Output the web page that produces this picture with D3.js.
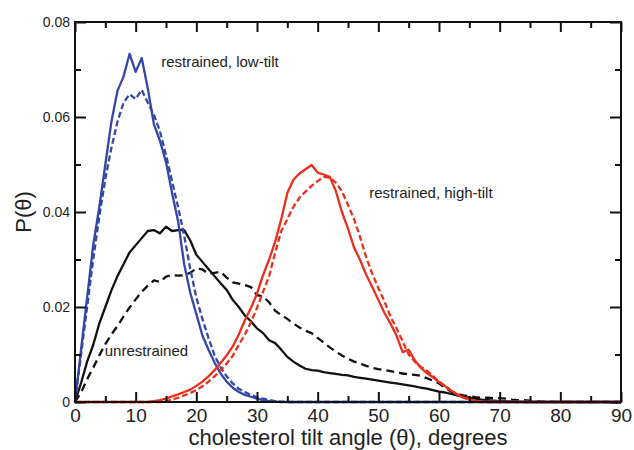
<!DOCTYPE html>
<html>
<head>
<meta charset="utf-8">
<script src="https://cdn.jsdelivr.net/npm/d3@7"></script>
<style>
  body { margin: 0; background: #fff; }
  svg { display: block; }
  text { font-family: "Liberation Sans", Arial, Helvetica, sans-serif; fill: #222; }
</style>
</head>
<body>
<svg id="chart" width="634" height="450"></svg>
<script>
// Tilt-angle distributions P(theta), sampled every 1 degree.
// Each series starts at the angle given by its *Start constant.
const lowTiltSolidStart = 0;
const lowTiltSolid = [
  0.000, 0.011, 0.022, 0.033, 0.041, 0.050, 0.059, 0.0655, 0.0685, 0.0733,
  0.0695, 0.0724, 0.066, 0.0585, 0.055, 0.0505, 0.044, 0.038, 0.029, 0.023,
  0.0185, 0.014, 0.011, 0.0083, 0.006, 0.0043, 0.003, 0.0021, 0.0015, 0.0011,
  0.0007, 0.0004, 0.0002, 0.0001, 0.0
];
const lowTiltDashedStart = 0;
const lowTiltDashed = [
  0.000, 0.010, 0.020, 0.030, 0.039, 0.047, 0.0535, 0.059, 0.063, 0.0648,
  0.0638, 0.0657, 0.063, 0.0605, 0.057, 0.052, 0.0465, 0.041, 0.035, 0.028,
  0.022, 0.0175, 0.0135, 0.0098, 0.0073, 0.0054, 0.0039, 0.0028, 0.0021, 0.0015,
  0.001, 0.0007, 0.0004, 0.0002, 0.0001, 0.0
];
const unrestrainedSolidStart = 0;
const unrestrainedSolid = [
  0.000, 0.004, 0.0085, 0.012, 0.0165, 0.020, 0.0235, 0.0265, 0.029, 0.0315,
  0.033, 0.0345, 0.036, 0.0362, 0.0355, 0.0369, 0.036, 0.0362, 0.0362, 0.034,
  0.031, 0.0295, 0.028, 0.0265, 0.025, 0.0236, 0.0215, 0.020, 0.0182, 0.017,
  0.0155, 0.0145, 0.013, 0.0124, 0.011, 0.0095, 0.0085, 0.0077, 0.007, 0.0067,
  0.0066, 0.0063, 0.0061, 0.0059, 0.0057, 0.0056, 0.0053, 0.0051, 0.0049, 0.0047,
  0.0045, 0.0043, 0.0041, 0.0039, 0.0037, 0.0035, 0.0033, 0.003, 0.0028, 0.0025,
  0.0022, 0.002, 0.0017, 0.0014, 0.0011, 0.0009, 0.0007, 0.0005, 0.0004, 0.0003,
  0.0002, 0.0002, 0.0001, 0.0001, 0.0
];
const unrestrainedDashedStart = 0;
const unrestrainedDashed = [
  0.000, 0.002, 0.0048, 0.0072, 0.0098, 0.0122, 0.0142, 0.016, 0.018, 0.0199,
  0.0216, 0.0232, 0.0245, 0.0256, 0.0253, 0.0264, 0.0267, 0.0266, 0.0267, 0.0272,
  0.0281, 0.0279, 0.027, 0.0272, 0.0274, 0.0262, 0.0252, 0.0249, 0.0246, 0.0242,
  0.0225, 0.0222, 0.021, 0.0192, 0.0183, 0.0175, 0.0165, 0.0157, 0.015, 0.0145,
  0.0135, 0.0125, 0.0115, 0.0106, 0.0098, 0.0091, 0.0085, 0.0081, 0.0076, 0.0072,
  0.0069, 0.0067, 0.0065, 0.0062, 0.006, 0.0058, 0.0057, 0.0055, 0.005, 0.0045,
  0.0039, 0.003, 0.0022, 0.0017, 0.0014, 0.0012, 0.001, 0.0009, 0.0009, 0.0008,
  0.0008, 0.0007, 0.0005, 0.0004, 0.0004, 0.0003, 0.0002, 0.0001, 0.0001, 0.0
];
const highTiltSolidStart = 12;
const highTiltSolid = [
  0.0, 0.0002, 0.0004, 0.0007, 0.0012, 0.0016, 0.0021, 0.0026, 0.0034, 0.0043,
  0.0054, 0.0067, 0.0082, 0.0098, 0.0117, 0.0142, 0.0172, 0.0198, 0.0228, 0.0267,
  0.030, 0.0338, 0.0385, 0.044, 0.0468, 0.0481, 0.049, 0.0499, 0.0483, 0.0479,
  0.0474, 0.0444, 0.040, 0.0365, 0.0325, 0.0299, 0.0268, 0.0242, 0.0215, 0.0188,
  0.0165, 0.014, 0.0105, 0.011, 0.0088, 0.0072, 0.0061, 0.0052, 0.0042, 0.0033,
  0.0024, 0.0016, 0.001, 0.0006, 0.0003, 0.0001, 0.0
];
const highTiltDashedStart = 14;
const highTiltDashed = [
  0.0, 0.0002, 0.0005, 0.0009, 0.0014, 0.0019, 0.0025, 0.0033, 0.0043, 0.0054,
  0.0067, 0.0081, 0.0097, 0.012, 0.0142, 0.0168, 0.0198, 0.0232, 0.0265, 0.0315,
  0.036, 0.0385, 0.0411, 0.043, 0.0443, 0.0455, 0.0465, 0.0474, 0.0472, 0.0462,
  0.0444, 0.0415, 0.0385, 0.0347, 0.0305, 0.027, 0.024, 0.0212, 0.018, 0.0155,
  0.0128, 0.01, 0.0085, 0.0074, 0.0066, 0.0055, 0.0043, 0.0034, 0.0024, 0.0016,
  0.0009, 0.0005, 0.0002, 0.0
];

const xMajorTicks = [0, 10, 20, 30, 40, 50, 60, 70, 80, 90];
const xMinorTicks = [5, 15, 25, 35, 45, 55, 65, 75, 85];
const yMajorTicks = [0, 0.02, 0.04, 0.06, 0.08];
const yMinorTicks = [0.01, 0.03, 0.05, 0.07];
const yTickLabels = ["0", "0.02", "0.04", "0.06", "0.08"];

const BLUE = "#3447a6";
const RED = "#e8301c";
const BLACK = "#111";

const svg = d3.select("#chart");
const margin = { left: 75, right: 13, top: 22, bottom: 48 };
const W = 634, H = 450;

const x = d3.scaleLinear().domain([0, 90]).range([margin.left, W - margin.right]);
const y = d3.scaleLinear().domain([0, 0.08]).range([H - margin.bottom, margin.top]);

// Turn a sampled series into [theta, P] points covering the whole 0..90 range.
function toPoints(start, values) {
  const pts = values.map((v, i) => [start + i, v]);
  if (start > 0) pts.unshift([0, 0]);
  if (pts[pts.length - 1][0] < 90) pts.push([90, 0]);
  return pts;
}

const line = d3.line().x(d => x(d[0])).y(d => y(d[1]));

const series = [
  { pts: toPoints(unrestrainedSolidStart, unrestrainedSolid), color: BLACK, dash: null },
  { pts: toPoints(unrestrainedDashedStart, unrestrainedDashed), color: BLACK, dash: "8,5" },
  { pts: toPoints(lowTiltDashedStart, lowTiltDashed), color: BLUE, dash: "6,3" },
  { pts: toPoints(lowTiltSolidStart, lowTiltSolid), color: BLUE, dash: null },
  { pts: toPoints(highTiltDashedStart, highTiltDashed), color: RED, dash: "6,3" },
  { pts: toPoints(highTiltSolidStart, highTiltSolid), color: RED, dash: null }
];

const plot = svg.append("g");
plot.selectAll("path.curve")
  .data(series)
  .join("path")
  .attr("class", "curve")
  .attr("d", d => line(d.pts))
  .attr("fill", "none")
  .attr("stroke", d => d.color)
  .attr("stroke-width", 2.3)
  .attr("stroke-linejoin", "round")
  .attr("stroke-dasharray", d => d.dash);

// Inward-pointing ticks on all four sides.
function styleAxis(g) {
  g.select(".domain").remove();
  g.selectAll(".tick line").attr("stroke", "#111").attr("stroke-width", 2);
}

const xB = margin.top, yB = H - margin.bottom;

svg.append("g").attr("transform", `translate(0,${yB})`)
  .call(d3.axisBottom(x).tickValues(xMajorTicks).tickSize(-10).tickPadding(6).tickFormat(d3.format("d")))
  .call(styleAxis)
  .call(g => g.selectAll("text").attr("font-size", 19).attr("fill", "#222").attr("dy", "0.72em"));
svg.append("g").attr("transform", `translate(0,${yB})`)
  .call(d3.axisBottom(x).tickValues(xMinorTicks).tickSize(-6).tickFormat(""))
  .call(styleAxis);
svg.append("g").attr("transform", `translate(0,${xB})`)
  .call(d3.axisTop(x).tickValues(xMajorTicks).tickSize(-10).tickFormat(""))
  .call(styleAxis);
svg.append("g").attr("transform", `translate(0,${xB})`)
  .call(d3.axisTop(x).tickValues(xMinorTicks).tickSize(-6).tickFormat(""))
  .call(styleAxis);

svg.append("g").attr("transform", `translate(${margin.left},0)`)
  .call(d3.axisLeft(y).tickValues(yMajorTicks).tickSize(-11).tickPadding(5)
    .tickFormat((d, i) => yTickLabels[i]))
  .call(styleAxis)
  .call(g => g.selectAll("text").attr("font-size", 14).attr("fill", "#222"));
svg.append("g").attr("transform", `translate(${margin.left},0)`)
  .call(d3.axisLeft(y).tickValues(yMinorTicks).tickSize(-6).tickFormat(""))
  .call(styleAxis);
svg.append("g").attr("transform", `translate(${W - margin.right},0)`)
  .call(d3.axisRight(y).tickValues(yMajorTicks).tickSize(-11).tickFormat(""))
  .call(styleAxis);
svg.append("g").attr("transform", `translate(${W - margin.right},0)`)
  .call(d3.axisRight(y).tickValues(yMinorTicks).tickSize(-6).tickFormat(""))
  .call(styleAxis);

// Frame
svg.append("rect")
  .attr("x", margin.left).attr("y", margin.top)
  .attr("width", W - margin.right - margin.left)
  .attr("height", H - margin.bottom - margin.top)
  .attr("fill", "none").attr("stroke", "#111").attr("stroke-width", 2);

// Axis titles
svg.append("text")
  .attr("x", (margin.left + W - margin.right) / 2)
  .attr("y", 445)
  .attr("text-anchor", "middle")
  .attr("font-size", 22)
  .text("cholesterol tilt angle (θ), degrees");

svg.append("text")
  .attr("transform", `translate(31,212) rotate(-90)`)
  .attr("text-anchor", "middle")
  .attr("font-size", 22)
  .text("P(θ)");

// Curve annotations
const notes = [
  { t: "restrained, low-tilt", theta: 14.2, p: 0.0705 },
  { t: "restrained, high-tilt", theta: 48.5, p: 0.0430 },
  { t: "unrestrained", theta: 4.9, p: 0.0097 }
];
svg.selectAll("text.note")
  .data(notes)
  .join("text")
  .attr("class", "note")
  .attr("x", d => x(d.theta))
  .attr("y", d => y(d.p))
  .attr("font-size", 15)
  .text(d => d.t);
</script>
</body>
</html>
